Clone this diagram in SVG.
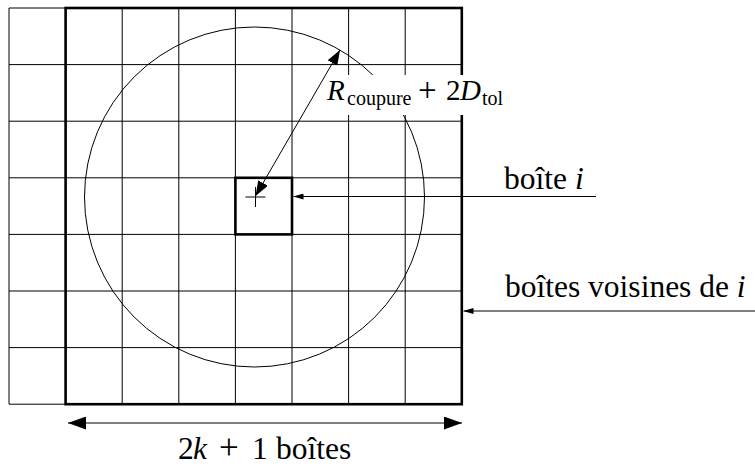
<svg xmlns="http://www.w3.org/2000/svg" width="755" height="466" viewBox="0 0 755 466">
<style>
.thin{stroke:#000;stroke-width:1;fill:none}
.thick{stroke:#000;stroke-width:2.6;fill:none}
text{font-family:'Liberation Serif','DejaVu Serif',serif;font-size:31.5px;fill:#000}
.it{font-style:italic}
.sub{font-size:20px}
</style>
<defs>
<marker id="big" viewBox="0 0 18 13" refX="18" refY="6.5" markerWidth="18" markerHeight="13" markerUnits="userSpaceOnUse" orient="auto-start-reverse">
<path d="M0,0 L18,6.5 L0,13 Z" fill="#000"/>
</marker>
<marker id="med" viewBox="0 0 15 11" refX="15" refY="5.5" markerWidth="15" markerHeight="11" markerUnits="userSpaceOnUse" orient="auto-start-reverse">
<path d="M0,0 L15,5.5 L0,11 Z" fill="#000"/>
</marker>
<marker id="small" viewBox="0 0 10 6" refX="10" refY="3" markerWidth="10" markerHeight="6" markerUnits="userSpaceOnUse" orient="auto">
<path d="M0,0 L10,3 L0,6 Z" fill="#000"/>
</marker>
</defs>
<rect width="755" height="466" fill="#fff"/>
<g id="grid" class="thin">
<path d="M9,8V404.2 M65.6,8V404.2 M122.2,8V404.2 M178.8,8V404.2 M235.4,8V404.2 M292,8V404.2 M348.6,8V404.2 M405.2,8V404.2 M461.8,8V404.2"/>
<path d="M9,8H461.8 M9,64.6H461.8 M9,121.2H461.8 M9,177.8H461.8 M9,234.4H461.8 M9,291H461.8 M9,347.6H461.8 M9,404.2H461.8"/>
</g>
<g id="circle">
<circle cx="254.5" cy="197" r="170" class="thin"/>
</g>
<g id="neighbours">
<rect x="65.6" y="8" width="396.2" height="396.2" class="thick"/>
</g>
<g id="box-i">
<rect x="235.4" y="177.8" width="56.6" height="56.6" class="thick"/>
<path d="M245.5,197H265.5 M255.5,187V207" class="thin"/>
</g>
<g id="radius-label">
<rect x="326" y="75" width="172" height="40" fill="#fff"/>
<text x="327" y="100" style="font-size:29px"><tspan class="it">R</tspan><tspan class="sub" x="347" y="105">coupure</tspan><tspan x="418" y="101" style="font-size:33px">+</tspan><tspan x="446" y="100">2</tspan><tspan class="it" x="460">D</tspan><tspan class="sub" x="482" y="105">tol</tspan></text>
</g>
<g id="connectors" class="thin">
<line x1="255.5" y1="196" x2="340" y2="50" marker-start="url(#med)" marker-end="url(#med)"/>
<line x1="596" y1="196.5" x2="293.5" y2="196.5" marker-end="url(#small)"/>
<line x1="755" y1="311" x2="463.5" y2="311" marker-end="url(#small)"/>
<line x1="68" y1="423" x2="462" y2="423" marker-start="url(#big)" marker-end="url(#big)"/>
</g>
<g id="labels">
<text x="504" y="189">boîte <tspan class="it">i</tspan></text>
<text x="505" y="297">boîtes voisines de <tspan class="it">i</tspan></text>
<text x="178" y="459">2<tspan class="it" x="193">k</tspan><tspan x="219" style="font-size:35px">+</tspan><tspan x="252">1</tspan><tspan x="276">boîtes</tspan></text>
</g>
</svg>
